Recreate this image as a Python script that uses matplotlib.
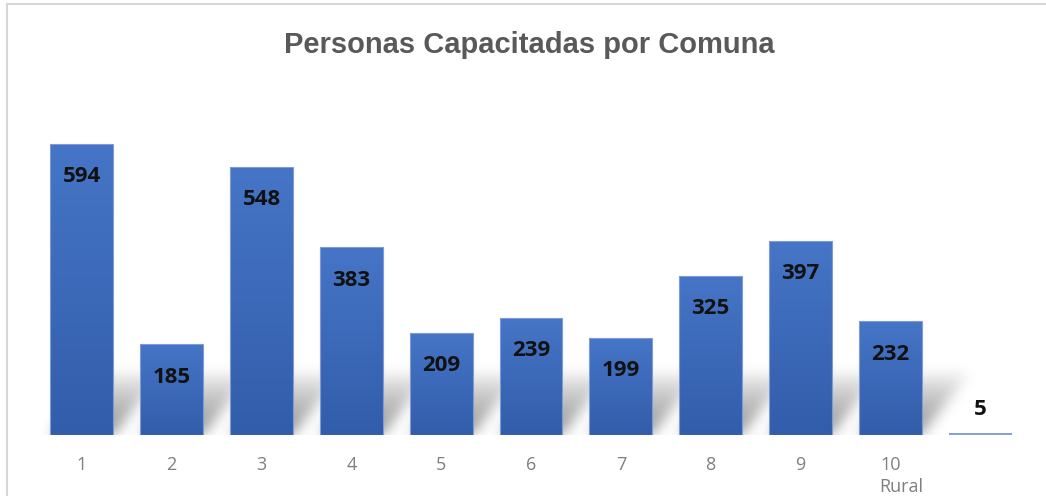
import numpy as np
import matplotlib.pyplot as plt
from matplotlib.patches import Rectangle
from matplotlib.lines import Line2D

comunas = ['1', '2', '3', '4', '5', '6', '7', '8', '9', '10', 'Rural']
personas = [594, 185, 548, 383, 209, 239, 199, 325, 397, 232, 5]

fig = plt.figure(figsize=(10.46, 4.96), dpi=100)
W, H = 1046, 496
ax = fig.add_axes([37 / W, 61 / H, 988 / W, 335 / H])

x_lo, x_hi = 0.5, 11.5
y_top = 684
ax.set_xlim(x_lo, x_hi)
ax.set_ylim(0, y_top)
pos = np.arange(1, len(personas) + 1)
width = 0.70

# soft floor shadow cast up and to the right of each bar
nx, ny = 988, 335
gx = np.linspace(x_lo, x_hi, nx)
gy = np.linspace(0, y_top, ny)
X, Y = np.meshgrid(gx, gy)
shade = np.zeros_like(X)
sh_h, sh_s = 130, 0.55
for p, v in zip(pos, personas):
    if v < 20:
        continue
    f = Y / sh_h
    x0 = p - width / 2 + sh_s * f
    x1 = p + width / 2 + sh_s * f
    m = (f <= 1) & (X >= x0) & (X <= x1)
    shade = np.maximum(shade, np.where(m, (1 - f) ** 0.7, 0))

k = np.arange(-20, 21)
kern = np.exp(-k ** 2 / (2 * 6.5 ** 2))
kern /= kern.sum()
shade = np.apply_along_axis(lambda r: np.convolve(r, kern, mode='same'), 1, shade)
shade = np.apply_along_axis(lambda c: np.convolve(c, kern, mode='same'), 0, shade)
rgba = np.zeros((ny, nx, 4))
rgba[..., :3] = 0.3
rgba[..., 3] = shade * 0.6
ax.imshow(rgba, extent=(x_lo, x_hi, 0, y_top), origin='lower',
          aspect='auto', zorder=1, interpolation='bilinear')

# bars with a vertical blue gradient
top_c = np.array([70, 117, 199]) / 255
bot_c = np.array([50, 93, 170]) / 255
grad = np.linspace(0, 1, 256)[:, None, None]
grad_img = bot_c * (1 - grad) + top_c * grad
grad_img = np.repeat(grad_img, 2, axis=1)

lbl = dict(ha='center', va='center', fontsize=16, fontweight='bold',
           family='Open Sans', color='#111111', zorder=5)

for p, v in zip(pos, personas):
    x0 = p - width / 2
    if v < 20:
        ax.add_patch(Rectangle((x0, 0), width, v, facecolor='#86A3D9',
                               edgecolor='none', zorder=3))
        ax.text(p, v + 48, str(v), **lbl)
        continue
    rect = Rectangle((x0, 0), width, v, facecolor='none',
                     edgecolor='#7d9bd6', linewidth=0.8, zorder=4)
    ax.add_patch(rect)
    im = ax.imshow(grad_img, extent=(x0, x0 + width, 0, v), origin='lower',
                   aspect='auto', zorder=3, interpolation='bilinear')
    im.set_clip_path(rect)
    ax.text(p, v - 67, str(v), **lbl)

ax.set_xticks(pos)
ax.set_xticklabels(comunas[:10] + [''])
ax.tick_params(axis='x', length=0, pad=15, labelsize=13, labelcolor='#7f7f7f')
ax.set_yticks([])
for s in ax.spines.values():
    s.set_visible(False)
for t in ax.get_xticklabels():
    t.set_family('Open Sans')

ax.text(9.88, -0.155, comunas[10], transform=ax.get_xaxis_transform(),
        ha='left', va='center', fontsize=13, color='#7f7f7f', family='Open Sans')

fig.text(529 / W, 1 - 45 / H, 'Personas Capacitadas por Comuna',
         ha='center', va='center', fontsize=21, fontweight='bold',
         family='Liberation Sans', color='#595959')

# chart frame edges
fig.add_artist(Line2D([7 / W, 1], [1 - 4 / H, 1 - 4 / H], color='#d6d6d6', lw=1.5))
fig.add_artist(Line2D([7 / W, 7 / W], [0, 1 - 4 / H], color='#d6d6d6', lw=1.5))

fig.savefig('out.png', dpi=100)
